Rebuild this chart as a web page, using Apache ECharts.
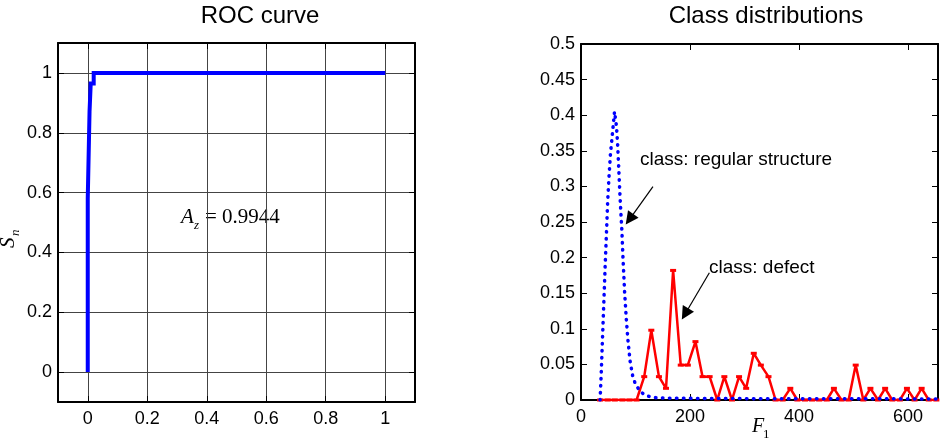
<!DOCTYPE html>
<html><head><meta charset="utf-8">
<script src="https://cdn.jsdelivr.net/npm/echarts@6/dist/echarts.min.js"></script>
<style>html,body{margin:0;padding:0;background:#fff}#c{width:942px;height:442px}</style>
</head><body><div id="c"></div>
<script>
// ROC curve
const rocFPR = [0, 0, 0.006, 0.006, 0.01, 0.01, 0.02, 0.02, 1];
const rocSn  = [0, 0.58, 0.58, 0.87, 0.87, 0.965, 0.965, 1, 1];
const rocTicks = [0, 0.2, 0.4, 0.6, 0.8, 1];
// Class distributions
const regF = [35, 37, 40, 42.5, 44.5, 47, 49, 51.5, 54, 56.5, 59, 61.5, 63, 65, 67, 69, 71, 73, 75, 77, 80, 83, 86, 90, 95, 100, 106, 112, 120, 130, 140, 170, 250, 400, 655];
const regP = [0, 0.035, 0.098, 0.15, 0.192, 0.24, 0.28, 0.315, 0.345, 0.365, 0.385, 0.405, 0.407, 0.385, 0.362, 0.33, 0.295, 0.265, 0.238, 0.2, 0.152, 0.115, 0.085, 0.055, 0.033, 0.022, 0.015, 0.01, 0.006, 0.004, 0.003, 0.0025, 0.002, 0.0018, 0.0015];
const defectF = [35, 49, 62, 76, 89, 102, 116, 129, 143, 156, 169, 183, 196, 210, 223, 236, 250, 263, 277, 290, 303, 317, 330, 344, 357, 370, 384, 397, 411, 424, 437, 451, 464, 478, 491, 504, 518, 531, 545, 558, 571, 585, 598, 612, 625, 638, 652];
const defectP = [0,0,0,0,0,0,0.0328,0.098,0.0328,0.0164,0.182,0.049,0.049,0.082,0.0328,0.0328,0,0.0328,0,0.0328,0.0164,0.0656,0.049,0.0328,0,0,0.0164,0,0,0,0,0,0.0164,0,0,0.049,0,0.0164,0,0.0164,0,0,0.0164,0,0.0164,0,0];
const fTicks = [0, 200, 400, 600];

const zip = (a, b) => a.map((v, i) => [v, b[i]]);
const SANS = 'Liberation Sans, Arial, Helvetica, sans-serif';
const SERIF = 'Liberation Serif, Times New Roman, serif';
const black = '#000';

function xAx(grid, pos, min, max, ticks, show, extra) {
  return Object.assign({
    type: 'value', gridIndex: grid, position: pos, min: min, max: max,
    axisLine: { show: true, onZero: false, lineStyle: { color: black, width: 2 } },
    axisTick: { show: true, inside: true, length: 6, customValues: ticks, lineStyle: { color: black, width: 1 } },
    axisLabel: { show: show, customValues: ticks, color: black, fontSize: 18, fontFamily: SANS, margin: 8 },
    splitLine: { show: false }
  }, extra || {});
}
function yAx(grid, pos, min, max, extra) {
  return Object.assign({
    type: 'value', gridIndex: grid, position: pos, min: min, max: max,
    axisLine: { show: true, onZero: false, lineStyle: { color: black, width: 2 } },
    axisTick: { show: true, inside: true, length: 6, lineStyle: { color: black, width: 1 } },
    axisLabel: { show: pos === 'left', color: black, fontSize: 18, fontFamily: SANS, margin: 6 },
    splitLine: { show: false }
  }, extra || {});
}
const gridLine = { show: true, lineStyle: { color: '#444', width: 1 } };

const option = {
  animation: false,
  backgroundColor: '#fff',
  grid: [
    { left: 58, top: 43, right: 527, bottom: 40, outerBoundsMode: 'none' },
    { left: 581, top: 44, right: 4, bottom: 42, outerBoundsMode: 'none' }
  ],
  xAxis: [
    xAx(0, 'bottom', -0.1, 1.1, rocTicks, true, { splitLine: gridLine }),
    xAx(0, 'top', -0.1, 1.1, rocTicks, false),
    xAx(1, 'bottom', 0, 655, fTicks, true),
    xAx(1, 'top', 0, 655, fTicks, false)
  ],
  yAxis: [
    yAx(0, 'left', -0.1, 1.1, {
      splitLine: gridLine,
      axisTick: { show: true, inside: true, length: 6, customValues: rocTicks, lineStyle: { color: black } },
      axisLabel: { show: true, customValues: rocTicks, color: black, fontSize: 18, fontFamily: SANS, margin: 6 }
    }),
    yAx(0, 'right', -0.1, 1.1, {
      axisTick: { show: true, inside: true, length: 6, customValues: rocTicks, lineStyle: { color: black } }
    }),
    yAx(1, 'left', 0, 0.5, { interval: 0.05 }),
    yAx(1, 'right', 0, 0.5, { interval: 0.05 })
  ],
  series: [
    {
      type: 'line', xAxisIndex: 0, yAxisIndex: 0, data: zip(rocFPR, rocSn),
      showSymbol: false, lineStyle: { color: '#0000ff', width: 4, join: 'miter' }, z: 5
    },
    {
      type: 'line', xAxisIndex: 2, yAxisIndex: 2, data: zip(defectF, defectP),
      symbol: 'rect', symbolSize: [6, 3], itemStyle: { color: '#ff0000' },
      lineStyle: { color: '#ff0000', width: 2.5 }, z: 4,
      markLine: {
        silent: true, symbol: ['none', 'triangle'], symbolSize: 13,
        lineStyle: { color: black, width: 1.2, type: 'solid' },
        label: { show: false },
        data: [
          [{ coord: [132, 0.2996] }, { coord: [89, 0.2538] }],
          [{ coord: [235.5, 0.1788] }, { coord: [191, 0.1208] }]
        ]
      }
    },
    {
      type: 'line', xAxisIndex: 2, yAxisIndex: 2, data: zip(regF, regP),
      showSymbol: false, z: 6,
      lineStyle: { color: '#0000ff', width: 3.5, type: [0.5, 6.5], cap: 'round' }
    }
  ],
  graphic: [
    { type: 'text', x: 260, y: 16, style: { text: 'ROC curve', font: '24px ' + SANS, fill: black, align: 'center', verticalAlign: 'middle' } },
    { type: 'text', x: 766, y: 16, style: { text: 'Class distributions', font: '24px ' + SANS, fill: black, align: 'center', verticalAlign: 'middle' } },
    { type: 'text', x: 640, y: 160, style: { text: 'class: regular structure', font: '19px ' + SANS, fill: black, align: 'left', verticalAlign: 'middle' } },
    { type: 'text', x: 709, y: 268, style: { text: 'class: defect', font: '19px ' + SANS, fill: black, align: 'left', verticalAlign: 'middle' } },
    // A_z = 0.9944
    { type: 'text', x: 181, y: 228, style: { text: 'A', font: 'italic 21px ' + SERIF, fill: black, align: 'left', verticalAlign: 'bottom' } },
    { type: 'text', x: 194, y: 232, style: { text: 'z', font: 'italic 13px ' + SERIF, fill: black, align: 'left', verticalAlign: 'bottom' } },
    { type: 'text', x: 205, y: 228, style: { text: '= 0.9944', font: '21px ' + SERIF, fill: black, align: 'left', verticalAlign: 'bottom' } },
    // S_n
    { type: 'group', x: 15, y: 248, rotation: Math.PI / 2, children: [
      { type: 'text', x: 0, y: 4, style: { text: 'S', font: 'italic 21px ' + SERIF, fill: black, align: 'left', verticalAlign: 'bottom' } },
      { type: 'text', x: 12, y: 7, style: { text: 'n', font: 'italic 13px ' + SERIF, fill: black, align: 'left', verticalAlign: 'bottom' } }
    ] },
    // F_1
    { type: 'text', x: 752, y: 437, style: { text: 'F', font: 'italic 20px ' + SERIF, fill: black, align: 'left', verticalAlign: 'bottom' } },
    { type: 'text', x: 763, y: 441, style: { text: '1', font: '13px ' + SERIF, fill: black, align: 'left', verticalAlign: 'bottom' } }
  ]
};
const chart = echarts.init(document.getElementById('c'), null, { renderer: 'canvas' });
chart.setOption(option);
</script>
</body></html>
